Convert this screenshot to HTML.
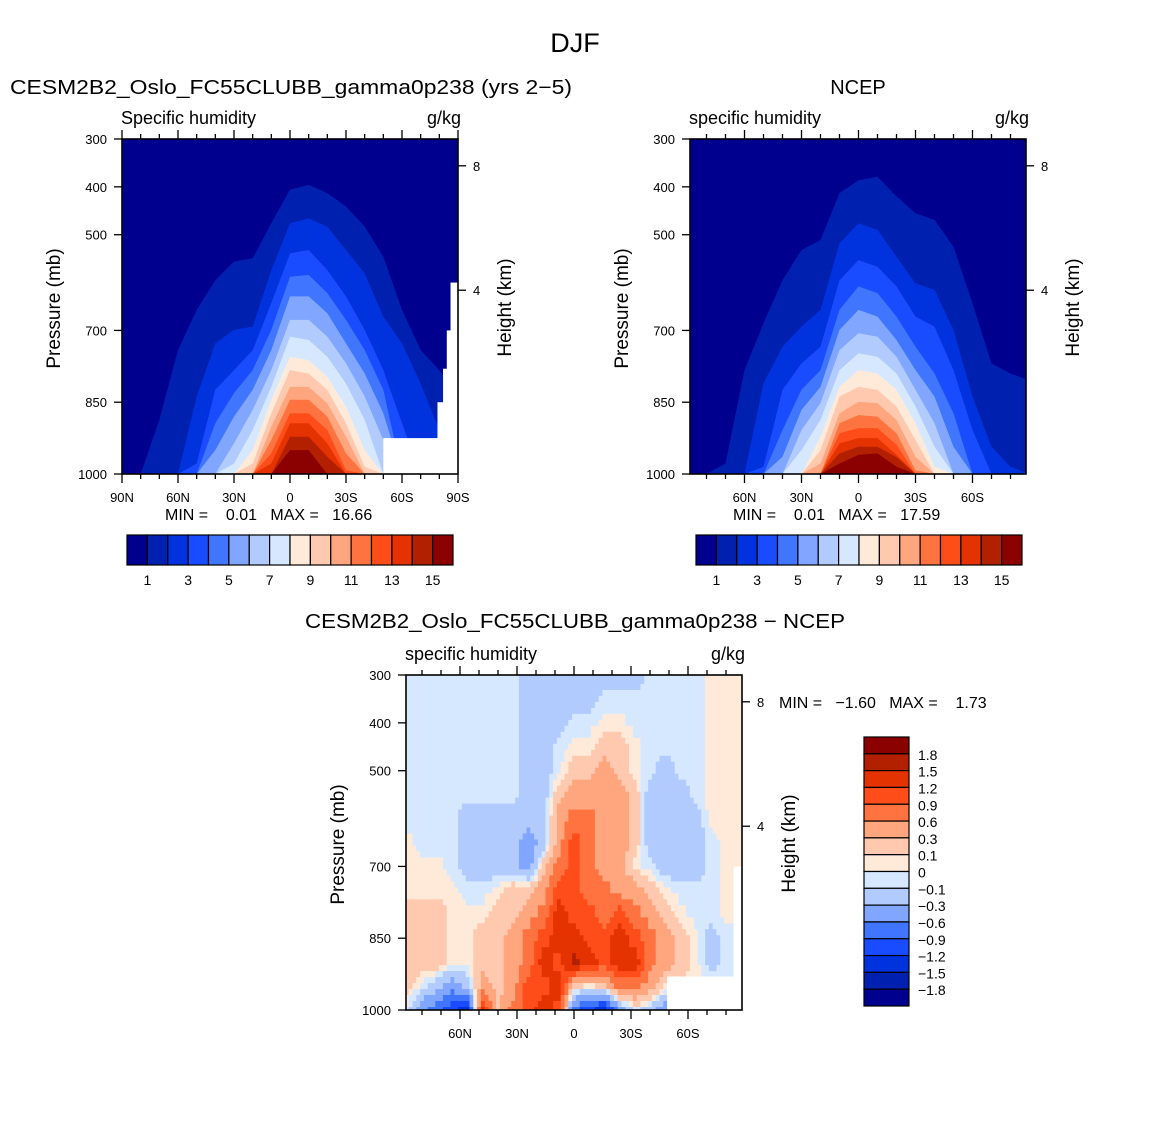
<!DOCTYPE html>
<html><head><meta charset="utf-8"><style>
body{margin:0;background:#fff}
svg{display:block;font-family:"Liberation Sans",sans-serif}
.pre{white-space:pre}
</style></head><body>
<svg id="fig" width="1150" height="1148" viewBox="0 0 1150 1148" xmlns="http://www.w3.org/2000/svg">
<rect x="0" y="0" width="1150" height="1148" fill="#fff"/>
<text x="575" y="52" font-size="27" text-anchor="middle">DJF</text>
</svg>
<script>
const colors = ["#00008f","#0020b0","#0033dd","#1a4cff","#3f75ff","#80a6ff","#b2cbff","#d6e8ff","#ffeada","#ffc9b0","#ffa67e","#ff7340","#ff4d1a","#e53300","#b32000","#8b0000"];
const lats = [90,80,70,60,50,40,30,20,10,0,-10,-20,-30,-40,-50,-60,-70,-80,-90];
const pTicks = [300,400,500,700,850,1000];
const hTickLabels = ["8","4"];
const hTickP = [356,616];
const cbLabels1 = ["1","3","5","7","9","11","13","15"];
const diffLevels = [-1.8,-1.5,-1.2,-0.9,-0.6,-0.3,-0.1,0,0.1,0.3,0.6,0.9,1.2,1.5,1.8];
const diffLabels = ["1.8","1.5","1.2","0.9","0.6","0.3","0.1","0","\u22120.1","\u22120.3","\u22120.6","\u22120.9","\u22121.2","\u22121.5","\u22121.8"];
const N = 1000;
const model = [
 [N,N,887,741,657,595,556,549,476,406,396,413,441,483,546,657,741,783,838],
 [N,N,N,N,838,727,699,692,574,476,466,483,532,581,671,727,811,908,N],
 [N,N,N,N,978,824,783,741,643,539,532,574,629,699,783,894,N,N,N],
 [N,N,N,N,N,894,831,783,699,588,584,622,678,741,824,N,N,N,N],
 [N,N,N,N,N,950,880,824,741,629,629,664,727,790,873,N,N,N,N],
 [N,N,N,N,N,N,936,866,783,678,678,713,769,838,929,N,N,N,N],
 [N,N,N,N,N,N,978,908,818,713,720,755,811,887,N,N,N,N,N],
 [N,N,N,N,N,N,N,950,845,755,762,797,859,950,N,N,N,N,N],
 [N,N,N,N,N,N,N,978,873,783,790,824,894,985,N,N,N,N,N],
 [N,N,N,N,N,N,N,N,901,818,818,852,922,N,N,N,N,N,N],
 [N,N,N,N,N,N,N,N,929,845,845,880,957,N,N,N,N,N,N],
 [N,N,N,N,N,N,N,N,957,873,873,908,992,N,N,N,N,N,N],
 [N,N,N,N,N,N,N,N,978,894,894,936,N,N,N,N,N,N,N],
 [N,N,N,N,N,N,N,N,N,922,922,964,N,N,N,N,N,N,N],
 [N,N,N,N,N,N,N,N,N,950,950,N,N,N,N,N,N,N,N]
];
const ncep = [
 [N,N,978,783,685,595,532,511,413,386,379,420,455,469,525,643,769,790,804],
 [N,N,N,N,810,734,692,657,518,476,490,546,602,615,699,838,943,985,N],
 [N,N,N,N,985,824,769,734,595,553,567,608,671,692,783,908,N,N,N],
 [N,N,N,N,N,908,824,783,657,608,622,671,734,790,873,N,N,N,N],
 [N,N,N,N,N,964,866,818,699,657,671,720,783,838,943,N,N,N,N],
 [N,N,N,N,N,N,908,852,741,706,713,755,824,894,N,N,N,N,N],
 [N,N,N,N,N,N,950,887,783,748,755,790,859,943,N,N,N,N,N],
 [N,N,N,N,N,N,N,922,818,783,790,824,894,985,N,N,N,N,N],
 [N,N,N,N,N,N,N,950,838,818,824,859,929,N,N,N,N,N,N],
 [N,N,N,N,N,N,N,978,873,849,852,887,964,N,N,N,N,N,N],
 [N,N,N,N,N,N,N,N,894,877,880,915,992,N,N,N,N,N,N],
 [N,N,N,N,N,N,N,N,915,904,904,939,N,N,N,N,N,N,N],
 [N,N,N,N,N,N,N,N,936,925,925,960,N,N,N,N,N,N,N],
 [N,N,N,N,N,N,N,N,957,943,943,965,N,N,N,N,N,N,N],
 [N,N,N,N,N,N,N,N,978,960,957,985,N,N,N,N,N,N,N]
];
const diffLats = [88,80,72,64,56,48,40,32,24,16,8,0,-8,-16,-24,-32,-40,-48,-56,-64,-72,-80,-88];
const diffP = [300,350,400,450,500,550,600,650,700,750,800,850,900,950,1000];
const a=-0.05,b=-0.2,c=-0.45,d=-0.75,e=-1.05,f=-1.35,P=0.05,Q=0.2,R=0.45,S=0.75,T=1.05,U=1.35,V=1.65;
const diff = [
 [a,a,a,a,a,a,a,a,b,b,b,b,b,b,b,b,a,a,a,a,P,P,P],
 [a,a,a,a,a,a,a,a,b,b,b,b,b,a,a,a,a,a,a,a,P,P,P],
 [a,a,a,a,a,a,a,a,b,b,b,a,a,P,P,a,a,a,a,a,P,P,P],
 [a,a,a,a,a,a,a,a,b,b,a,P,P,Q,Q,P,a,a,a,a,P,P,P],
 [a,a,a,a,a,a,a,a,b,b,a,Q,Q,R,Q,P,a,b,a,a,P,P,P],
 [a,a,a,a,a,a,a,a,b,b,Q,R,R,R,R,Q,b,b,b,a,P,P,P],
 [a,a,a,a,b,b,b,b,b,b,R,S,S,R,R,Q,b,b,b,b,P,P,P],
 [P,a,a,a,b,b,b,b,c,b,R,T,S,R,R,Q,b,b,b,b,a,P,P],
 [P,P,P,a,b,b,b,b,c,Q,S,T,S,R,R,P,a,b,b,b,a,P,P],
 [P,P,P,P,a,a,P,Q,Q,R,T,T,S,S,R,R,Q,P,a,a,a,P,P],
 [Q,Q,Q,P,P,P,Q,Q,R,S,U,T,T,S,T,S,R,Q,P,a,a,P,P],
 [Q,Q,Q,P,P,Q,Q,R,S,T,U,U,T,T,U,T,S,R,Q,P,b,a,a],
 [Q,Q,Q,P,P,Q,Q,R,S,U,T,V,U,T,U,U,S,R,Q,P,b,a,a],
 [Q,a,b,c,b,R,Q,R,T,T,U,Q,P,Q,S,S,R,P,P,P,P,P,P],
 [a,c,d,e,f,U,Q,S,T,U,T,d,e,f,c,a,b,c,a,a,a,a,a]
];
const missing1 = [[-86,600],[-84,700],[-82,780],[-79,850],[-50,925]];
const missing3 = [[-84,700],[-49,930]];

const NS="http://www.w3.org/2000/svg";
const svg=document.getElementById('fig');
function mk(tag,attrs,parent){const el=document.createElementNS(NS,tag);for(const k in attrs)el.setAttribute(k,attrs[k]);(parent||svg).appendChild(el);return el;}
function txt(x,y,s,size,anchor,parent,extra){const t=mk('text',Object.assign({x:x,y:y,'font-size':size,'text-anchor':anchor||'start'},extra||{}),parent);t.textContent=s;return t;}
function latLabel(l){return l===0?"0":(Math.abs(l)+(l>0?"N":"S"));}
function levelIndex(v){let k=0;while(k<diffLevels.length&&v>diffLevels[k])k++;return k;}

function panel(cfg){
  const g=mk('g',{});
  
  
  const L=cfg.left,Tp=cfg.top,W=336,H=335;
  const xs=lat=>cfg.x0-lat*cfg.ppd;
  const ys=p=>Tp+(p-300)*H/700;
  const cid='clip-'+cfg.name;
  const cp=mk('clipPath',{id:cid},g);mk('rect',{x:L,y:Tp,width:W,height:H},cp);
  const plot=mk('g',{'clip-path':'url(#'+cid+')'},g);
  
  
  if(cfg.levels){
    const bg=mk('rect',{x:L,y:Tp,width:W,height:H,fill:colors[0]},plot);
    
    
    cfg.levels.forEach((arr,k)=>{
      let pts=lats.map((lat,i)=>xs(lat).toFixed(1)+','+ys(arr[i]).toFixed(1));
      pts.push(xs(lats[lats.length-1]).toFixed(1)+','+ys(1000));
      pts.push(xs(lats[0]).toFixed(1)+','+ys(1000));
      const pg=mk('polygon',{points:pts.join(' '),fill:colors[k+1]},plot);
      
      
    });
  }
  if(cfg.grid){
    const G=cfg.grid, nr=G.length, nc=G[0].length, sub=4;
    const cw=8*cfg.ppd/sub, ch=50*H/700/sub;
    for(let r=0;r<(nr-1)*sub+1;r++){
      const fr=r/sub, r0=Math.min(Math.floor(fr),nr-2), tr=fr-r0;
      for(let ci=0;ci<(nc-1)*sub+1;ci++){
        const fc=ci/sub, c0=Math.min(Math.floor(fc),nc-2), tc=fc-c0;
        const v=(1-tr)*((1-tc)*G[r0][c0]+tc*G[r0][c0+1])+tr*((1-tc)*G[r0+1][c0]+tc*G[r0+1][c0+1]);
        const lat=diffLats[0]+(diffLats[1]-diffLats[0])*fc;
        const p=diffP[0]+(diffP[1]-diffP[0])*fr;
        const cell=mk('rect',{x:(xs(lat)-cw/2).toFixed(1),y:(ys(p)-ch/2).toFixed(1),width:(cw+0.5).toFixed(1),height:(ch+0.5).toFixed(1),fill:colors[levelIndex(v)]},plot);
        
        
      }
    }
  }
  (cfg.missing||[]).forEach(m=>{
    const r=mk('rect',{x:xs(m[0]),y:ys(m[1]),width:L+W-xs(m[0]),height:Tp+H-ys(m[1]),fill:'#fff'},plot);
    
    
  });
  const fr=mk('rect',{x:L,y:Tp,width:W,height:H,fill:'none',stroke:'#000','stroke-width':1.6},g);
  
  
  for(let lat=-90;lat<=90;lat+=10){
    const x=xs(lat); if(x<L-0.5||x>L+W+0.5)continue;
    const major=lat%30===0;
    mk('line',{x1:x,y1:Tp+H,x2:x,y2:Tp+H+(major?9:5),stroke:'#000','stroke-width':1.3},g);
    mk('line',{x1:x,y1:Tp,x2:x,y2:Tp-(major?9:5),stroke:'#000','stroke-width':1.3},g);
    if(major){const t=txt(x,Tp+H+28,latLabel(lat),13,'middle',g);
      
      }
  }
  pTicks.forEach(p=>{
    const y=ys(p);
    mk('line',{x1:L,y1:y,x2:L-8,y2:y,stroke:'#000','stroke-width':1.3},g);
    const t=txt(L-15,y+5,String(p),13,'end',g);
    
    
  });
  hTickP.forEach((p,i)=>{
    const y=ys(p);
    mk('line',{x1:L+W,y1:y,x2:L+W+8,y2:y,stroke:'#000','stroke-width':1.3},g);
    const t=txt(L+W+15,y+5,hTickLabels[i],13,'start',g);
    
    
  });
  const yt=txt(0,0,'Pressure (mb)',19,'middle',g,{transform:'translate('+(L-62)+','+(Tp+H/2+2)+') rotate(-90)'});
  
  
  const ht=txt(0,0,'Height (km)',19,'middle',g,{transform:'translate('+(L+W+53)+','+(Tp+H/2+1)+') rotate(-90)'});
  
  
  const st=txt(L-1,Tp-15,cfg.sub,18,'start',g);
  
  
  const un=txt(L+W+3,Tp-15,'g/kg',18,'end',g);
  
  
  const ti=txt(cfg.titleX,cfg.titleY,cfg.title,20,cfg.titleAnchor,g,cfg.titleLen?{textLength:cfg.titleLen,lengthAdjust:'spacingAndGlyphs'}:{});
  
  
  if(cfg.minmax){const mm=txt(cfg.minmax[0],cfg.minmax[1],cfg.minmax[2],16,'start',g,{'class':'pre'});
    
    }
}

function hbar(x0,y0,name){
  const g=mk('g',{});
  
  
  const bw=326/16;
  colors.forEach((col,i)=>{
    const r=mk('rect',{x:x0+i*bw,y:y0,width:bw,height:30,fill:col,stroke:'#000','stroke-width':1.2},g);
    
    
  });
  cbLabels1.forEach((s,i)=>{
    const t=txt(x0+(2*i+1)*bw,y0+50,s,14,'middle',g);
    
    
  });
}

panel({name:'model-panel',left:122,top:139,x0:290,ppd:336/180,levels:model,missing:missing1,
  sub:'Specific humidity',title:'CESM2B2_Oslo_FC55CLUBB_gamma0p238 (yrs 2\u22125)',titleX:10,titleY:94,titleAnchor:'start',titleLen:562,
  minmax:[165,520,'MIN =    0.01   MAX =   16.66']});
panel({name:'ncep-panel',left:690,top:139,x0:858.5,ppd:1.9,levels:ncep,
  sub:'specific humidity',title:'NCEP',titleX:858,titleY:94,titleAnchor:'middle',
  minmax:[733,520,'MIN =    0.01   MAX =   17.59']});
panel({name:'diff-panel',left:406,top:675,x0:574,ppd:1.9,grid:diff,missing:missing3,
  sub:'specific humidity',title:'CESM2B2_Oslo_FC55CLUBB_gamma0p238 \u2212 NCEP',titleX:305,titleY:628,titleAnchor:'start',titleLen:540});
hbar(127,535,'model-colorbar');
hbar(696,535,'ncep-colorbar');

const mm3=txt(779,708,'MIN =   \u22121.60   MAX =    1.73',16,'start',svg,{'class':'pre'});


const vb=mk('g',{});


const bh=269/16;
colors.slice().reverse().forEach((col,i)=>{
  const r=mk('rect',{x:864,y:737+i*bh,width:45,height:bh,fill:col,stroke:'#000','stroke-width':1.2},vb);
  
  
});
diffLabels.forEach((s,i)=>{
  const t=txt(918,737+(i+1)*bh+6,s,14,'start',vb);
  
  
});
</script>
</body></html>
